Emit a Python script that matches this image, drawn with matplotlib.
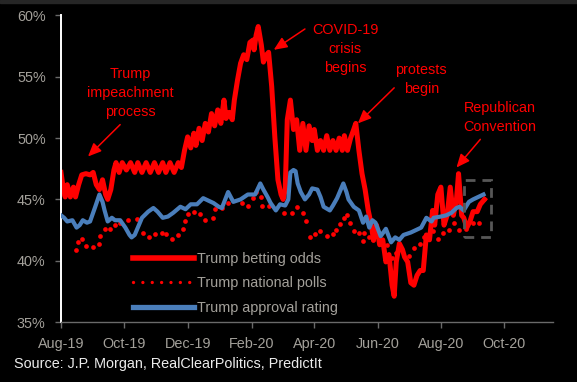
import numpy as np
import matplotlib
matplotlib.use("Agg")
import matplotlib.pyplot as plt
import matplotlib.dates as mdates
from matplotlib.lines import Line2D
from matplotlib.patches import Rectangle

# ---------------- data ----------------
start_date = np.datetime64("2019-08-01")

bet_days = [0, 2, 4, 6, 9, 12, 14, 17, 20, 24, 28, 31, 34, 37, 40, 43, 45, 48, 51, 53,
            56, 59, 63, 67, 71, 74, 78, 82, 86, 90, 94, 98, 101, 105, 109, 113, 116, 119,
            122, 125, 128, 130, 133, 136, 139, 142, 145, 148, 151, 154, 157, 159, 162, 165,
            167, 170, 173, 176, 179, 182, 185, 186, 188, 190, 193, 195, 198, 200, 203, 206,
            209, 212, 214, 216, 218, 221, 224, 227, 230, 233, 236, 239, 242, 244, 247, 250,
            253, 256, 259, 262, 265, 268, 271, 273, 276, 279, 282, 284, 287, 290, 293, 296,
            299, 301, 304, 307, 310, 313, 316, 319, 321, 323, 326, 329, 331, 334, 337, 340,
            343, 346, 349, 352, 355, 358, 360, 363, 366, 369, 372, 375, 378, 381, 383, 386,
            388, 391, 394, 397, 401, 404, 408]
bet_odds = [47.2, 46.0, 45.2, 46.2, 45.2, 46.0, 45.2, 46.2, 47.0, 47.1, 47.0, 47.2, 46.2,
            45.8, 46.6, 45.4, 45.0, 45.8, 47.4, 48.0, 47.2, 48.0, 47.4, 48.0, 47.2, 48.0,
            47.2, 48.0, 47.2, 48.0, 47.2, 48.0, 47.2, 48.0, 47.2, 48.0, 47.6, 49.0, 50.1,
            49.2, 50.4, 49.4, 50.8, 49.8, 51.2, 50.5, 52.0, 51.0, 52.3, 51.2, 53.1, 51.6,
            52.1, 51.5, 53.1, 54.7, 56.1, 56.8, 56.4, 57.8, 58.0, 57.2, 58.4, 59.1, 57.6,
            56.2, 56.8, 57.0, 54.2, 50.1, 46.6, 45.4, 45.0, 45.8, 51.5, 53.1, 50.7, 51.5,
            49.0, 51.2, 49.0, 51.0, 49.8, 50.7, 49.0, 49.8, 49.0, 50.2, 49.0, 49.8, 49.0,
            50.0, 49.0, 50.2, 49.0, 50.0, 50.7, 51.2, 49.0, 47.1, 45.8, 44.1, 42.9, 41.7,
            42.9, 41.3, 41.7, 39.9, 40.5, 38.0, 37.1, 39.9, 41.4, 40.9, 40.3, 39.9, 38.2,
            38.0, 38.8, 39.2, 39.2, 42.1, 41.7, 44.1, 42.9, 45.4, 46.0, 42.9, 43.7, 46.0,
            43.7, 45.0, 47.1, 43.7, 43.5, 42.7, 43.2, 44.0, 44.0, 44.6, 45.0]

poll_days = [14, 16, 20, 24, 31, 37, 38, 42, 47, 52, 57, 65, 73, 79, 85, 91, 97, 101, 107,
             113, 118, 119, 122, 128, 134, 139, 146, 148, 155, 161, 174, 180, 185, 188, 193,
             194, 200, 215, 223, 227, 233, 236, 240, 245, 250, 256, 262, 265, 269, 273, 276,
             278, 282, 287, 291, 292, 297, 301, 307, 314, 319, 323, 335, 340, 346, 350, 358,
             363, 368, 374, 379, 383, 390, 397, 403, 408]
poll_vals = [40.9, 41.5, 41.8, 41.2, 41.1, 41.4, 42.0, 42.6, 42.6, 42.9, 43.1, 43.3, 43.4,
             42.3, 41.9, 42.2, 42.3, 42.2, 41.8, 42.1, 42.6, 43.2, 43.8, 44.0, 43.8, 43.3,
             43.5, 44.2, 44.3, 44.7, 44.7, 44.5, 45.1, 45.6, 45.2, 44.5, 44.5, 43.9, 43.9,
             44.4, 43.9, 43.2, 41.9, 42.2, 42.4, 42.0, 42.2, 42.5, 43.0, 43.5, 43.7, 43.1,
             42.4, 42.3, 41.6, 42.3, 41.9, 41.7, 41.5, 41.3, 40.2, 40.6, 40.4, 41.0, 41.4,
             41.9, 42.4, 41.8, 42.3, 42.5, 43.1, 42.5, 42.6, 43.1, 43.1, 45.0]

appr_days = [0, 3, 6, 11, 15, 18, 21, 25, 28, 33, 37, 40, 42, 45, 49, 52, 57, 62, 66, 68,
             71, 73, 78, 84, 89, 93, 98, 103, 108, 115, 120, 125, 131, 137, 142, 147, 152,
             155, 161, 166, 173, 180, 187, 192, 195, 199, 202, 207, 211, 216, 219, 221, 224,
             226, 228, 231, 235, 239, 242, 247, 250, 253, 259, 262, 266, 272, 275, 277, 282,
             287, 291, 294, 297, 300, 303, 308, 313, 318, 322, 326, 330, 337, 342, 347, 352,
             357, 359, 366, 371, 376, 381, 384, 388, 393, 397, 402, 407]
appr_vals = [43.7, 43.5, 43.2, 43.3, 42.7, 42.9, 43.3, 43.1, 43.2, 44.4, 45.4, 44.8, 44.1,
             43.2, 43.5, 43.3, 43.3, 42.7, 42.1, 41.9, 42.1, 42.5, 43.5, 44.0, 44.3, 44.0,
             43.5, 43.6, 43.9, 44.4, 44.2, 44.6, 44.6, 45.1, 44.9, 44.7, 44.4, 44.3, 45.6,
             44.8, 45.0, 45.4, 45.4, 46.3, 45.8, 45.2, 44.7, 44.1, 44.6, 44.5, 45.0, 47.2,
             47.4, 47.3, 46.3, 45.6, 45.0, 45.4, 45.9, 45.8, 45.2, 44.4, 44.1, 44.5, 45.1,
             46.3, 45.6, 45.0, 44.4, 44.1, 43.1, 43.6, 42.7, 43.3, 43.1, 42.0, 42.6, 41.5,
             41.9, 41.7, 42.1, 42.3, 42.5, 42.7, 43.5, 43.2, 43.5, 43.6, 43.7, 43.9, 44.3,
             44.4, 44.1, 44.8, 45.0, 45.2, 45.4]

series_labels = ["Trump betting odds", "Trump national polls", "Trump approval rating"]
y_ticks = [35, 40, 45, 50, 55, 60]
x_tick_dates = ["2019-08-01", "2019-10-01", "2019-12-01", "2020-02-01", "2020-04-01",
                "2020-06-01", "2020-08-01", "2020-10-01"]
source_text = "Source: J.P. Morgan, RealClearPolitics, PredictIt"

# ---------------- drawing ----------------
FONT = "Liberation Sans"
FS = 10.4
RED = "#ff0000"
BLUE = "#4a7ebb"
TICKC = "#a3a09a"

def to_dates(days):
    return start_date + np.array(days).astype("timedelta64[D]")

fig = plt.figure(figsize=(5.77, 3.82), dpi=100, facecolor="black")
ax = fig.add_axes([61 / 577, 1 - 322 / 382, (553 - 61) / 577, (322 - 15.5) / 382])
ax.set_facecolor("black")

ax.plot(to_dates(appr_days), appr_vals, color=BLUE, lw=3.0, solid_joinstyle="round", zorder=3)
ax.plot(to_dates(poll_days), poll_vals, linestyle="none", marker="o", ms=3.4,
        mfc=RED, mec="none", zorder=2)
ax.plot(to_dates(bet_days), bet_odds, color=RED, lw=3.6, solid_joinstyle="round", zorder=2)

# dashed highlight box
d0 = mdates.date2num(np.datetime64("2020-08-23"))
d1 = mdates.date2num(np.datetime64("2020-09-18"))
ax.add_patch(Rectangle((d0, 41.9), d1 - d0, 46.6 - 41.9, fill=False, ec="#575757",
                       lw=2.0, ls=(0, (3.5, 2.5)), zorder=4))

ax.set_ylim(35, 60)
ax.set_xlim(mdates.date2num(start_date), mdates.date2num(np.datetime64("2020-11-17")))
ax.set_yticks(y_ticks)
ax.set_yticklabels([f"{v}%" for v in y_ticks])
ax.set_xticks(mdates.date2num(np.array(x_tick_dates, dtype="datetime64[D]")))
ax.xaxis.set_major_formatter(mdates.DateFormatter("%b-%y"))

for s in ["top", "right"]:
    ax.spines[s].set_visible(False)
ax.spines["left"].set_color("white")
ax.spines["left"].set_linewidth(1.4)
ax.spines["bottom"].set_color("#6a6a6a")
ax.spines["bottom"].set_linewidth(1.0)
ax.tick_params(axis="y", colors="#6a6a6a", labelcolor=TICKC, length=4, width=1,
               pad=7, labelsize=FS)
ax.tick_params(axis="x", colors="#6a6a6a", labelcolor=TICKC, length=4, width=1,
               pad=7, labelsize=FS)
for lab in ax.get_xticklabels() + ax.get_yticklabels():
    lab.set_fontfamily(FONT)

# legend
handles = [Line2D([], [], color=RED, lw=4.0),
           Line2D([], [], color=RED, lw=2.4, ls=(0, (0.01, 2.8)), dash_capstyle="round"),
           Line2D([], [], color=BLUE, lw=3.8)]
leg = ax.legend(handles, series_labels, loc="upper left",
                bbox_to_anchor=(133 / 577, 1 - 252 / 382), bbox_transform=fig.transFigure,
                frameon=False, borderpad=0, borderaxespad=0, handlelength=4.2,
                handletextpad=0.2, labelspacing=0.72,
                prop={"family": FONT, "size": FS})
for t in leg.get_texts():
    t.set_color(TICKC)

# annotations
def note(text, xy_day, xy_val, txt_day, txt_val, tail_day, tail_val):
    ax.annotate(text, xy=(mdates.date2num(start_date + np.timedelta64(xy_day, "D")), xy_val),
                xytext=(mdates.date2num(start_date + np.timedelta64(txt_day, "D")), txt_val),
                color=RED, fontsize=FS, family=FONT, ha="center", va="center",
                multialignment="center", linespacing=1.45, zorder=6)
    ax.annotate("", xy=(mdates.date2num(start_date + np.timedelta64(xy_day, "D")), xy_val),
                xytext=(mdates.date2num(start_date + np.timedelta64(tail_day, "D")), tail_val),
                arrowprops=dict(arrowstyle="-|>,head_length=0.8,head_width=0.35",
                                color=RED, lw=1.1, mutation_scale=10, shrinkA=0, shrinkB=0),
                zorder=6)

note("Trump\nimpeachment\nprocess", 26, 48.5, 67, 53.7, 57, 51.1)
note("COVID-19\ncrisis\nbegins", 205, 57.2, 274, 57.3, 235, 58.9)
note("protests\nbegin", 286, 51.2, 347, 54.8, 321, 54.1)
note("Republican\nConvention", 381, 47.6, 423, 51.7, 404, 49.9)

fig.text(14 / 577, 1 - 364 / 382, source_text, color="#ececec", fontsize=FS,
         family=FONT, ha="left", va="center")
fig.add_artist(Rectangle((0, 1 - 2.5 / 382), 1, 2.5 / 382, transform=fig.transFigure,
                         color="#262626", zorder=0))

fig.savefig("out.png", dpi=100, facecolor="black")
